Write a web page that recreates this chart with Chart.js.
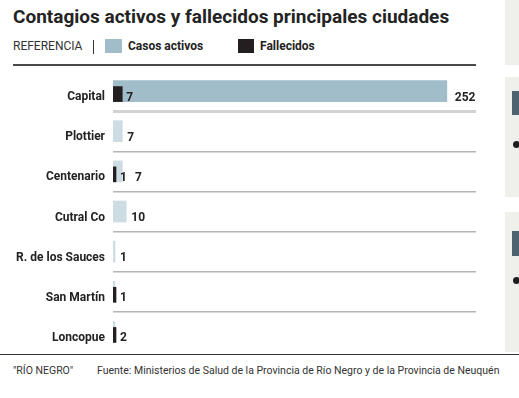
<!DOCTYPE html>
<html lang="es">
<head>
<meta charset="utf-8">
<script src="https://cdn.jsdelivr.net/npm/chart.js@4/dist/chart.umd.min.js"></script>
<style>
  html, body { margin: 0; padding: 0; background: #fff; }
  body { width: 519px; height: 398px; position: relative; overflow: hidden; font-family: Roboto, "Liberation Sans", sans-serif; color: #222; }
  .abs { position: absolute; }
  .title { left: 13px; top: 5px; font-size: 19px; font-weight: 700; white-space: nowrap; color: #232323; }
  .legend { top: 39px; left: 13px; height: 14px; font-size: 12px; line-height: 14px; white-space: nowrap; }
  .legend span { position: absolute; top: 0; }
  .ref { left: 0; color: #333; }
  .pipe { left: 80px; top: 1px !important; width: 1px; height: 14px; background: #333; }
  .sw { width: 17px; height: 14px; }
  .bold { font-weight: 700; color: #222; }
  .rule { left: 13px; top: 64px; width: 463px; height: 2px; background: #4a4a4a; }
  .panel { left: 505px; width: 14px; background: #efefeb; }
  .tab { left: 512px; width: 7px; background: #4d6470; }
  .dot { left: 513px; width: 7px; height: 7px; border-radius: 50%; background: #1e1e1e; }
  .foot-line { left: 0; top: 354px; width: 519px; height: 1px; background: #333; }
  .foot { top: 364px; left: 13px; font-size: 10.5px; white-space: nowrap; color: #333; }
  #wrap { position: absolute; left: 0; top: 71px; width: 480px; height: 281px; }
</style>
</head>
<body>
<div class="abs title">Contagios activos y fallecidos principales ciudades</div>
<div class="abs legend">
  <span class="ref">REFERENCIA</span>
  <span class="pipe"></span>
  <span class="sw" style="left:92px;background:#a2bdca"></span>
  <span class="bold" style="left:115px">Casos activos</span>
  <span class="sw" style="left:225px;width:16px;background:#231f20"></span>
  <span class="bold" style="left:247px">Fallecidos</span>
</div>
<div class="abs rule"></div>

<div class="abs panel" style="top:0;height:65px"></div>
<div class="abs panel" style="top:77px;height:120px"></div>
<div class="abs tab" style="top:91px;height:24px"></div>
<div class="abs dot" style="top:141px"></div>
<div class="abs panel" style="top:212px;height:140px"></div>
<div class="abs tab" style="top:231px;height:25px"></div>
<div class="abs dot" style="top:277px"></div>

<div id="wrap"><canvas id="chart"></canvas></div>

<div class="abs foot-line"></div>
<div class="abs foot">"RÍO NEGRO"<span style="position:absolute;left:84px">Fuente: Ministerios de Salud de la Provincia de Río Negro y de la Provincia de Neuquén</span></div>

<script>
  const cities = ['Capital', 'Plottier', 'Centenario', 'Cutral Co', 'R. de los Sauces', 'San Martín', 'Loncopue'];
  const activos = [252, 7, 7, 10, 1, 0, 0];
  const fallecidos = [7, 0, 1, 0, 0, 1, 2];

  const DARK_BLUE = '#a2bdca';
  const LIGHT_BLUE = '#cddbe2';
  const BLACK = '#231f20';
  const FONT = 'Roboto, "Liberation Sans", sans-serif';

  // los fallecidos van 3px mas abajo que los activos (alineados abajo)
  const shift = 3 / 40;

  // etiquetas de valor a la derecha de cada barra
  const valueLabels = {
    id: 'valueLabels',
    afterDatasetsDraw(chart) {
      const ctx = chart.ctx;
      const metaAct = chart.getDatasetMeta(0);
      const metaFal = chart.getDatasetMeta(1);
      ctx.save();
      ctx.font = '700 12px ' + FONT;
      ctx.fillStyle = '#222';
      ctx.textBaseline = 'alphabetic';
      cities.forEach((c, i) => {
        let minX = 0;
        const f = metaFal.data[i];
        if (fallecidos[i] > 0 && f) {
          const x = f.x + 4;
          const txt = String(fallecidos[i]);
          ctx.fillText(txt, x, f.y + f.height / 2 - 1);
          minX = x + ctx.measureText(txt).width + 8;
        }
        const a = metaAct.data[i];
        if (activos[i] > 0 && a) {
          const x = Math.max(a.x + (i === 0 ? 8 : 5), minX);
          ctx.fillText(String(activos[i]), x, a.y + a.height / 2 - 1);
        }
      });
      ctx.restore();
    }
  };

  new Chart(document.getElementById('chart'), {
    type: 'bar',
    data: {
      datasets: [
        {
          label: 'Casos activos',
          data: activos.map((v, i) => ({ x: v, y: i })),
          backgroundColor: (c) => (c.dataIndex === 0 ? DARK_BLUE : LIGHT_BLUE),
          barThickness: 21,
          minBarLength: 2,
          yAxisID: 'y',
          grouped: false,
          order: 2
        },
        {
          label: 'Fallecidos',
          data: fallecidos.map((v, i) => ({ x: v || null, y: i })),
          backgroundColor: BLACK,
          barThickness: 15,
          minBarLength: 3,
          yAxisID: 'y2',
          grouped: false,
          order: 1
        }
      ]
    },
    options: {
      indexAxis: 'y',
      responsive: true,
      maintainAspectRatio: false,
      animation: false,
      layout: { padding: { top: 0, right: 4, bottom: 0, left: 0 } },
      plugins: {
        legend: { display: false },
        tooltip: { enabled: false }
      },
      scales: {
        x: {
          type: 'linear',
          min: 0,
          max: 274,
          display: false
        },
        y: {
          type: 'linear',
          min: -0.5,
          max: 6.5,
          offset: false,
          reverse: true,
          afterBuildTicks: (s) => { s.ticks = cities.map((c, i) => ({ value: i })); },
          afterFit: (s) => {
            s.width = 113;
            s.paddingTop = 0;
            s.paddingBottom = 0;
          },
          border: { display: false },
          grid: {
            offset: true,
            drawTicks: false,
            color: (c) => (c.index >= 1 && c.index <= 6 ? (c.index === 1 ? '#d2d2d2' : '#b4b4b4') : 'rgba(0,0,0,0)'),
            lineWidth: (c) => (c.index === 1 ? 3 : 1.5)
          },
          ticks: {
            padding: 8,
            labelOffset: 6,
            color: '#222',
            font: { family: FONT, size: 12, weight: '700' },
            callback: (v) => cities[v]
          }
        },
        y2: {
          type: 'linear',
          min: -0.5 - shift,
          max: 6.5 - shift,
          offset: false,
          reverse: true,
          display: false
        }
      }
    },
    plugins: [valueLabels]
  });
</script>
</body>
</html>
